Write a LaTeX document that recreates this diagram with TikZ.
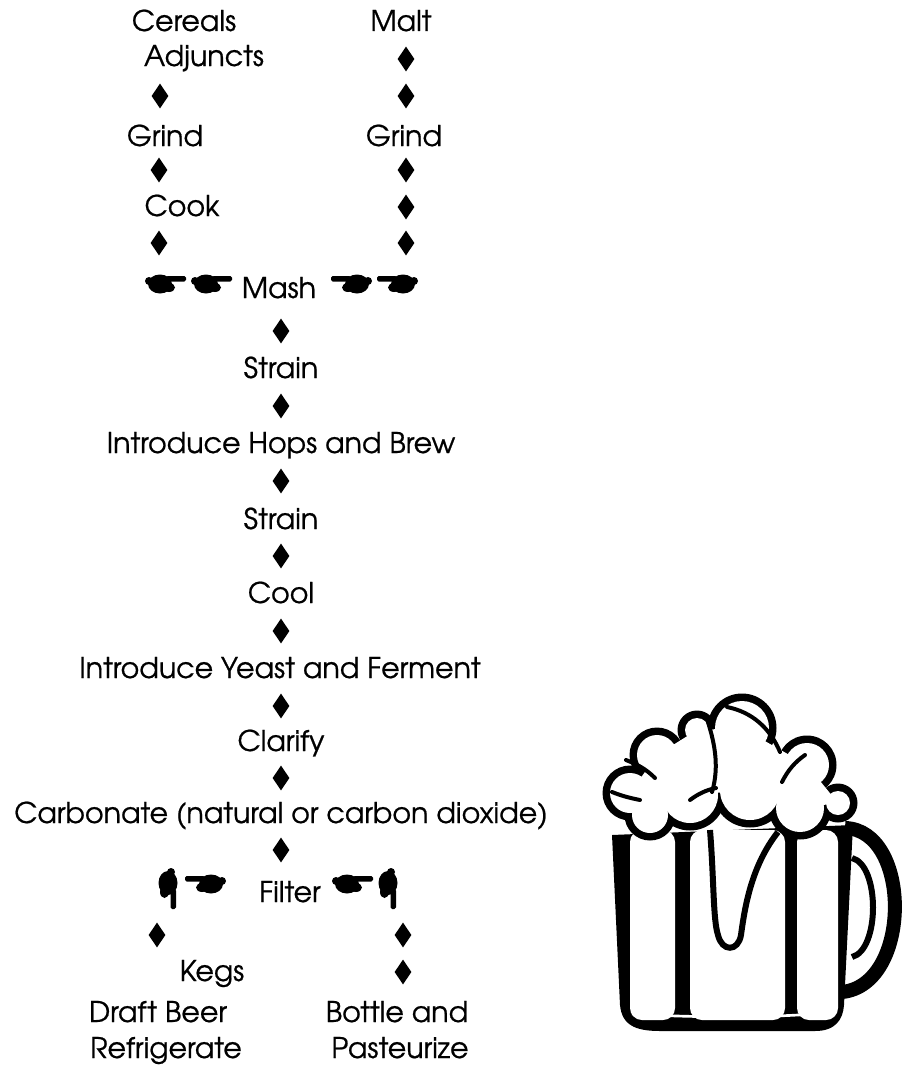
\documentclass[tikz,border=0pt]{standalone}
\usepackage{fontspec}
\setmainfont[FakeBold=0.7]{TeX Gyre Adventor}
\usetikzlibrary{shapes.geometric}
\tikzset{
  lbl/.style={inner sep=0pt, anchor=base, font=\fontsize{21.4}{24}\selectfont},
  dia/.style={shape=diamond, fill=black, inner sep=0pt,
              minimum width=12.75pt, minimum height=18.75pt},
  % a black pointing hand, finger towards +x
  hand/.pic={
    \fill (-6,1) ellipse [x radius=12, y radius=9.5];
    \fill (-17,-2) circle [radius=4];
    \fill[rounded corners=1.2pt] (0,-7) rectangle (20,-1.5);
    \fill (3,4.5) ellipse [x radius=6, y radius=4.5];
  },
}
\begin{document}
\begin{tikzpicture}[x=0.75pt,y=-0.75pt]
\useasboundingbox (0,0) rectangle (904,1067);

% cereal branch
\node[lbl] (cereals)  at (184,31)  {Cereals};
\node[lbl] (adjuncts) at (204,66)  {Adjuncts};
\node[dia] (dl1)      at (160,96)  {};
\node[lbl] (grindL)   at (165,146) {Grind};
\node[dia] (dl2)      at (159,170) {};
\node[lbl] (cook)     at (182,216) {Cook};
\node[dia] (dl3)      at (159,243) {};

% malt branch
\node[lbl] (malt)     at (401,31)  {Malt};
\node[dia] (dr1)      at (406,59)  {};
\node[dia] (dr2)      at (406,96)  {};
\node[lbl] (grindR)   at (404,146) {Grind};
\node[dia] (dr3)      at (406,170) {};
\node[dia] (dr4)      at (406,207) {};
\node[dia] (dr5)      at (406,243) {};

% both branches meet at the mash
\pic at (166,283) {hand};
\pic at (212,283) {hand};
\node[lbl] (mash)     at (279,298) {Mash};
\pic[xscale=-1] at (351,283) {hand};
\pic[xscale=-1] at (397,283) {hand};

% main line
\node[dia] (d1)       at (281,331) {};
\node[lbl] (strain1)  at (281,378) {Strain};
\node[dia] (d2)       at (281,406) {};
\node[lbl] (hops)     at (281,453) {Introduce Hops and Brew};
\node[dia] (d3)       at (281,481) {};
\node[lbl] (strain2)  at (281,529) {Strain};
\node[dia] (d4)       at (281,556) {};
\node[lbl] (cool)     at (281,603) {Cool};
\node[dia] (d5)       at (281,631) {};
\node[lbl] (yeast)    at (280,678) {Introduce Yeast and Ferment};
\node[dia] (d6)       at (281,706) {};
\node[lbl] (clarify)  at (281,751) {Clarify};
\node[dia] (d7)       at (281,778) {};
\node[lbl] (carb)     at (281,823) {Carbonate (natural or carbon dioxide)};
\node[dia] (d8)       at (281,850) {};

% filter splits into two
\pic[rotate=-90] at (169,889) {hand};
\pic[xscale=-1] at (205,883) {hand};
\node[lbl] (filter)   at (290,902) {Filter};
\pic at (353,883) {hand};
\pic[rotate=-90] at (389,889) {hand};

% kegs branch
\node[dia] (kl1)      at (157,935) {};
\node[lbl] (kegs)     at (212,981) {Kegs};
\node[lbl] (draft)    at (158,1022) {Draft Beer};
\node[lbl] (refrig)   at (166,1058) {Refrigerate};

% bottle branch
\node[dia] (br1)      at (403,935) {};
\node[dia] (br2)      at (403,972) {};
\node[lbl] (bottle)   at (397,1022) {Bottle and};
\node[lbl] (past)     at (400,1058) {Pasteurize};

% beer mug
% handle
\draw[line width=10.5pt] (845,828) .. controls (912,830) and (912,985) .. (842,992);
\draw[line width=4.5pt] (852,858) .. controls (880,865) and (880,950) .. (852,957);
% glass body
\fill (612,835) -- (620,1005) .. controls (622,1025) and (635,1031) .. (660,1031)
      -- (815,1031) .. controls (835,1031) and (843,1020) .. (844,1005) -- (853,825) -- cycle;
\fill[white, rounded corners=9pt] (630,830) rectangle (675,1020);
\fill[white, rounded corners=9pt] (690,830) rectangle (785,1020);
\fill[white, rounded corners=9pt] (797,830) rectangle (838,1020);
\draw[white, line width=2pt] (632,1014) .. controls (700,1018) and (780,1018) .. (836,1012);
% foam running down the glass
\draw[line width=4.5pt, fill=white] (710,830) .. controls (714,880) and (713,920) .. (718,935)
      .. controls (722,952) and (738,952) .. (741,935) .. controls (745,905) and (752,865) .. (778,832);
% foam head: dark rim first, then the white lobes and the white core
\foreach \cx/\cy/\r in {630/793/20, 657/755/20, 742/728/27, 697/730/12, 807/765/22,
                        838/803/12, 690/795/28, 750/790/30, 800/808/24, 650/815/18}
  \fill (\cx,\cy) circle [radius=\r+7.5];
\foreach \cx/\cy/\r in {630/793/20, 657/755/20, 742/728/27, 697/730/12, 807/765/22,
                        838/803/12, 690/795/28, 750/790/30, 800/808/24, 650/815/18}
  \fill[white] (\cx,\cy) circle [radius=\r];
\fill[white] (630,793) -- (657,755) -- (697,730) -- (742,728) -- (807,765)
      -- (838,803) -- (800,808) -- (750,790) -- (690,795) -- (650,815) -- cycle;
% creases in the foam
\begin{scope}[line width=3pt, line cap=round]
  \draw (706,716) .. controls (714,740) and (720,765) .. (712,792);
  \draw (727,707) .. controls (752,712) and (770,728) .. (780,752);
  \draw (626,760) .. controls (636,764) and (645,768) .. (655,778);
  \draw (612,792) .. controls (622,796) and (630,798) .. (640,800);
  \draw (805,755) .. controls (795,762) and (788,770) .. (782,782);
  \draw (690,800) .. controls (698,794) and (706,790) .. (716,788);
\end{scope}
\end{tikzpicture}
\end{document}
